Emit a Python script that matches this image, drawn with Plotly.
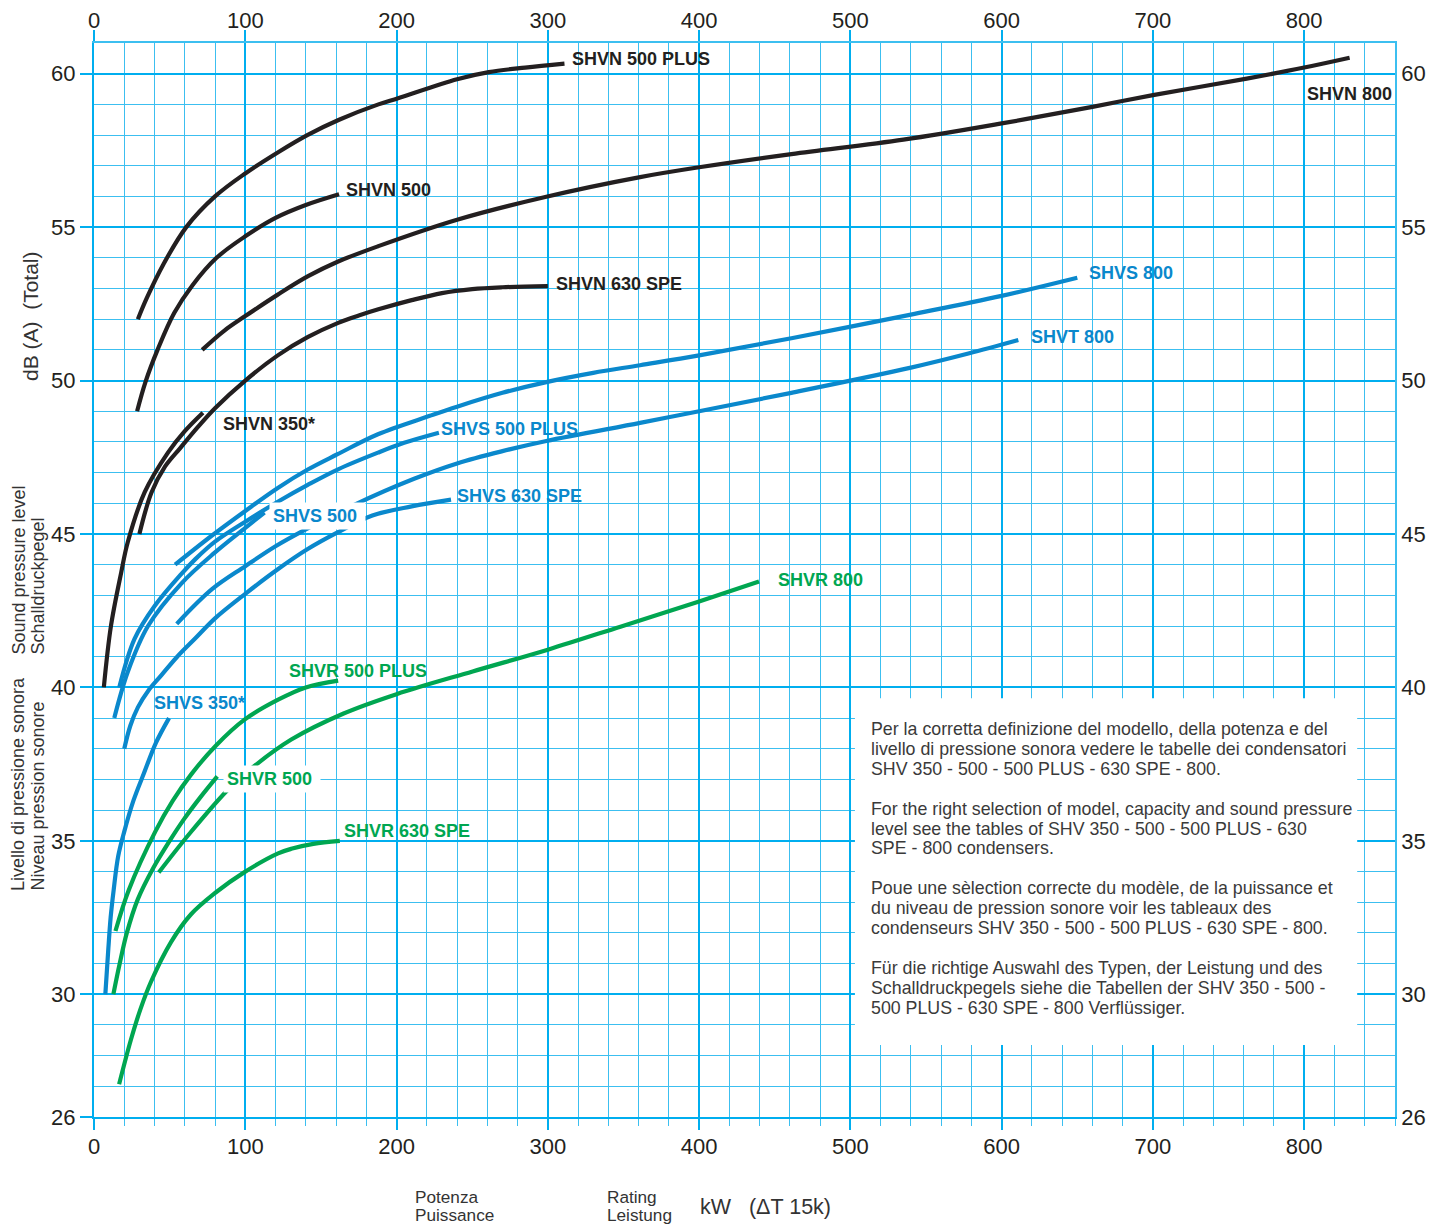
import plotly.graph_objects as go

# ---------------- data: capacity kW vs sound pressure dB(A) ----------------
shvn_500_plus_kw = [29, 35, 46, 61, 80, 100, 122, 141, 162, 188, 201, 240, 261, 285, 311]
shvn_500_plus_db = [52.0, 52.7, 53.8, 55.0, 56.0, 56.75, 57.45, 58.0, 58.5, 59.0, 59.2, 59.82, 60.05, 60.2, 60.33]

shvn_500_kw = [28.5, 34, 42, 53, 65, 81, 100, 120, 140, 162]
shvn_500_db = [49.0, 49.95, 51.0, 52.2, 53.1, 54.0, 54.7, 55.3, 55.72, 56.07]

shvn_800_kw = [71.5, 86, 100, 121.5, 141.5, 161.4, 188, 240, 299, 361, 400, 461, 535, 600, 660, 700, 762, 800, 830]
shvn_800_db = [51.0, 51.62, 52.1, 52.8, 53.4, 53.88, 54.38, 55.24, 55.99, 56.63, 56.95, 57.38, 57.85, 58.38, 58.92, 59.3, 59.84, 60.2, 60.52]

shvn_630_spe_kw = [30, 38, 47, 57, 68, 80, 100, 121.5, 141.5, 161.4, 175, 188, 210, 230, 250, 270, 300]
shvn_630_spe_db = [45.0, 46.35, 47.2, 47.8, 48.45, 49.1, 50.0, 50.82, 51.42, 51.88, 52.12, 52.32, 52.62, 52.85, 52.98, 53.04, 53.08]

shvn_350_kw = [6.5, 11.2, 18, 22.3, 33.5, 49, 60, 72]
shvn_350_db = [40.0, 42.0, 43.75, 44.73, 46.36, 47.66, 48.35, 48.95]

shvs_800_kw = [53.6, 78, 100, 121.5, 141.3, 161, 187.7, 222, 240, 270, 299, 330, 361, 400, 461, 540, 600, 650]
shvs_800_db = [44.0, 44.95, 45.75, 46.5, 47.1, 47.6, 48.25, 48.85, 49.15, 49.6, 49.95, 50.25, 50.5, 50.82, 51.38, 52.15, 52.76, 53.35]

shvt_800_kw = [54.7, 78, 100, 120, 140, 172, 211.6, 240, 270, 299, 361, 400, 461, 540, 578, 611]
shvt_800_db = [42.07, 43.2, 43.95, 44.6, 45.15, 45.95, 46.8, 47.3, 47.7, 48.03, 48.62, 49.0, 49.6, 50.42, 50.88, 51.32]

shvs_500_plus_kw = [16.7, 26.8, 40.2, 57.8, 67, 80, 100, 121.5, 141.3, 161, 187.7, 205, 228]
shvs_500_plus_db = [40.0, 41.58, 42.66, 43.7, 44.18, 44.75, 45.4, 46.05, 46.6, 47.1, 47.65, 47.97, 48.3]

shvs_500_kw = [13.4, 22.3, 35.7, 58, 80, 100, 112.7]
shvs_500_db = [39.0, 40.5, 42.0, 43.4, 44.4, 45.2, 45.7]

shvs_630_spe_kw = [20, 24, 29, 36, 44.6, 55, 67, 80, 100, 121.5, 141, 161, 184, 210, 236]
shvs_630_spe_db = [38.0, 38.75, 39.35, 39.9, 40.4, 41.0, 41.6, 42.25, 43.05, 43.85, 44.5, 45.05, 45.6, 45.9, 46.12]

shvs_350_kw = [7.5, 9.5, 11, 13, 16, 20, 26, 33, 41, 49.6]
shvs_350_db = [30.0, 31.5, 32.5, 33.4, 34.5, 35.3, 36.3, 37.2, 38.2, 39.0]

shvr_800_kw = [42.8, 63.9, 88.2, 103.8, 130.4, 165, 200, 250.3, 300, 348, 400, 439.6]
shvr_800_db = [33.97, 35.28, 36.65, 37.35, 38.3, 39.15, 39.78, 40.52, 41.23, 41.98, 42.8, 43.45]

shvr_500_plus_kw = [14.2, 23, 40.5, 52, 64, 80.5, 99.5, 121.7, 140, 161.4]
shvr_500_plus_db = [32.06, 33.4, 35.3, 36.3, 37.15, 38.1, 38.95, 39.6, 40.0, 40.22]

shvr_500_kw = [12.8, 17, 21.7, 29, 39, 50, 59.4, 70, 81.5]
shvr_500_db = [30.0, 31.0, 32.0, 33.1, 34.1, 35.0, 35.7, 36.4, 37.1]

shvr_630_spe_kw = [16.6, 24.3, 30.6, 37.6, 50.9, 64, 80, 99.5, 121.7, 130.4, 145, 162.5]
shvr_630_spe_db = [27.07, 28.5, 29.5, 30.4, 31.7, 32.6, 33.3, 33.98, 34.59, 34.74, 34.9, 35.0]

x_ticks = [0, 100, 200, 300, 400, 500, 600, 700, 800]
y_ticks = [26, 30, 35, 40, 45, 50, 55, 60]

note_lines = [
    "Per la corretta definizione del modello, della potenza e del",
    "livello di pressione sonora vedere le tabelle dei condensatori",
    "SHV 350 - 500 - 500 PLUS - 630 SPE - 800.",
    "",
    "For the right selection of model, capacity and sound pressure",
    "level see the tables of SHV 350 - 500 - 500 PLUS - 630",
    "SPE - 800 condensers.",
    "",
    "Poue une sèlection correcte du modèle, de la puissance et",
    "du niveau de pression sonore voir les tableaux des",
    "condenseurs SHV 350 - 500 - 500 PLUS - 630 SPE - 800.",
    "",
    "Für die richtige Auswahl des Typen, der Leistung und des",
    "Schalldruckpegels siehe die Tabellen der SHV 350 - 500 -",
    "500 PLUS - 630 SPE - 800 Verflüssiger.",
]

# ---------------- styles ----------------
BLACK = "#231f20"
BLUE = "#0a88cc"
GREEN = "#00a651"
MAJ = "#00aeef"
MIN = "#3cbff0"
FONT = "Liberation Sans"

series = [
    ("SHVN 500 PLUS", shvn_500_plus_kw, shvn_500_plus_db, BLACK),
    ("SHVN 500", shvn_500_kw, shvn_500_db, BLACK),
    ("SHVN 800", shvn_800_kw, shvn_800_db, BLACK),
    ("SHVN 630 SPE", shvn_630_spe_kw, shvn_630_spe_db, BLACK),
    ("SHVN 350*", shvn_350_kw, shvn_350_db, BLACK),
    ("SHVS 800", shvs_800_kw, shvs_800_db, BLUE),
    ("SHVT 800", shvt_800_kw, shvt_800_db, BLUE),
    ("SHVS 500 PLUS", shvs_500_plus_kw, shvs_500_plus_db, BLUE),
    ("SHVS 500", shvs_500_kw, shvs_500_db, BLUE),
    ("SHVS 630 SPE", shvs_630_spe_kw, shvs_630_spe_db, BLUE),
    ("SHVS 350*", shvs_350_kw, shvs_350_db, BLUE),
    ("SHVR 800", shvr_800_kw, shvr_800_db, GREEN),
    ("SHVR 500 PLUS", shvr_500_plus_kw, shvr_500_plus_db, GREEN),
    ("SHVR 500", shvr_500_kw, shvr_500_db, GREEN),
    ("SHVR 630 SPE", shvr_630_spe_kw, shvr_630_spe_db, GREEN),
]

# label anchor (left edge, middle) in data units; white background flag
label_pos = {
    "SHVN 500 PLUS": (315.6, 60.49, False),
    "SHVN 500": (165.7, 56.21, False),
    "SHVN 630 SPE": (305.0, 53.16, False),
    "SHVN 350*": (84.5, 48.58, False),
    "SHVN 800": (800.9, 59.34, False),
    "SHVS 800": (657.0, 53.5, False),
    "SHVT 800": (618.7, 51.42, False),
    "SHVS 500 PLUS": (228.5, 48.42, False),
    "SHVS 630 SPE": (239.0, 46.24, False),
    "SHVS 500": (115.5, 45.59, True),
    "SHVS 350*": (39.0, 39.49, False),
    "SHVR 500 PLUS": (128.1, 40.53, False),
    "SHVR 500": (85.2, 37.01, True),
    "SHVR 630 SPE": (164.4, 35.32, False),
    "SHVR 800": (451.6, 43.5, False),
}

# plot frame in pixels
L, R, T, B = 94, 1395, 43, 1117
W, H = R - L, B - T


def px_x(px):
    return (px - L) / W


def px_y(py):
    return (B - py) / H


fig = go.Figure()
for name, xs, ys, col in series:
    fig.add_trace(go.Scatter(x=xs, y=ys, mode="lines", name=name,
                             line=dict(color=col, width=4.2, shape="spline", smoothing=1.0),
                             hoverinfo="x+y+name"))
# carrier trace for the mirrored axes
fig.add_trace(go.Scatter(x=[None], y=[None], xaxis="x2", yaxis="y2", showlegend=False, hoverinfo="skip"))

annotations = []
for name, xs, ys, col in series:
    ax, ay, bg = label_pos[name]
    annotations.append(dict(
        x=ax, y=ay, xref="x", yref="y", text=name + ("&nbsp;" if bg else ""),
        showarrow=False, xanchor="left", yanchor="middle",
        font=dict(family=FONT, size=18, color=col, weight="bold"),
        bgcolor="white" if bg else None, borderpad=3 if bg else 0,
    ))

# explanatory note
for i, line in enumerate(note_lines):
    if not line:
        continue
    annotations.append(dict(
        x=px_x(869), y=px_y(729 + i * 19.9), xref="paper", yref="paper",
        text=line, showarrow=False, xanchor="left", yanchor="middle",
        font=dict(family=FONT, size=17.8, color="#3a3a3a"),
    ))

# left axis titles (rotated)
left_titles = [
    ("dB (A)  (Total)", 30, 383, 21),
    ("Sound pressure level", 18, 657, 18),
    ("Schalldruckpegel", 37, 657, 18),
    ("Livello di pressione sonora", 18, 893, 18),
    ("Niveau pression sonore", 37, 893, 18),
]
for txt, cx, by, sz in left_titles:
    annotations.append(dict(
        x=px_x(cx), y=px_y(by), xref="paper", yref="paper", text=txt,
        textangle=-90, showarrow=False, xanchor="center", yanchor="bottom",
        font=dict(family=FONT, size=sz, color="#333333"),
    ))

# bottom axis titles
bottom_titles = [
    ("Potenza", 413, 1197, 17.2),
    ("Puissance", 413, 1215, 17.2),
    ("Rating", 605, 1197, 17.2),
    ("Leistung", 605, 1215, 17.2),
    ("kW&nbsp;&nbsp;&nbsp;(ΔT 15k)", 698, 1207, 21.5),
]
for txt, lx, cy, sz in bottom_titles:
    annotations.append(dict(
        x=px_x(lx), y=px_y(cy), xref="paper", yref="paper", text=txt,
        showarrow=False, xanchor="left", yanchor="middle",
        font=dict(family=FONT, size=sz, color="#333333"),
    ))

tickfont = dict(family=FONT, size=22, color=BLACK)

fig.update_layout(
    width=1444, height=1225,
    margin=dict(l=L, r=1444 - R, t=T, b=1225 - B, autoexpand=False),
    paper_bgcolor="white", plot_bgcolor="white",
    showlegend=False,
    xaxis=dict(
        range=[0, 860], tickmode="array", tickvals=x_ticks, automargin=False,
        showgrid=True, gridcolor=MAJ, gridwidth=2.2, zeroline=False,
        ticks="outside", ticklen=11, tickwidth=2.2, tickcolor=MAJ,
        tickfont=tickfont, showline=True, linecolor=MAJ, linewidth=2.2,
        ticklabelstandoff=-3,
        minor=dict(tickmode="linear", tick0=0, dtick=20, showgrid=True,
                   gridcolor=MIN, gridwidth=1.3, ticks="outside", ticklen=7,
                   tickcolor=MIN, tickwidth=1.3),
        fixedrange=True,
    ),
    yaxis=dict(
        range=[26, 61], tickmode="array", tickvals=y_ticks, automargin=False,
        showgrid=True, gridcolor=MAJ, gridwidth=2.2, zeroline=False,
        ticks="outside", ticklen=12, tickwidth=2.2, tickcolor=MAJ,
        tickfont=tickfont, showline=True, linecolor=MAJ, linewidth=2.2,
        minor=dict(tickmode="linear", tick0=26, dtick=1, showgrid=True,
                   gridcolor=MIN, gridwidth=1.3),
        ticklabelstandoff=0,
        fixedrange=True,
    ),
    xaxis2=dict(
        range=[0, 860], overlaying="x", side="top", tickmode="array", tickvals=x_ticks,
        automargin=False,
        showgrid=False, zeroline=False, ticks="outside", ticklen=11, tickwidth=2.2,
        tickcolor=MAJ, tickfont=tickfont, showline=True, linecolor=MIN, linewidth=1.5,
        ticklabelstandoff=-7,
        fixedrange=True,
    ),
    yaxis2=dict(
        range=[26, 61], overlaying="y", side="right", tickmode="array", tickvals=y_ticks,
        automargin=False,
        showgrid=False, zeroline=False, ticks="", tickfont=tickfont,
        showline=True, linecolor=MIN, linewidth=1.5, ticklabelstandoff=0,
        fixedrange=True,
    ),
    annotations=annotations,
    shapes=[dict(type="rect", xref="x", yref="y", x0=503, x1=835, y0=28.35, y1=39.65,
                 fillcolor="white", line=dict(width=0), layer="above")],
)

fig.write_html(
    "out.html",
    config={"displayModeBar": False},
    post_script="document.body.style.margin='0';document.body.style.overflow='hidden';",
)
